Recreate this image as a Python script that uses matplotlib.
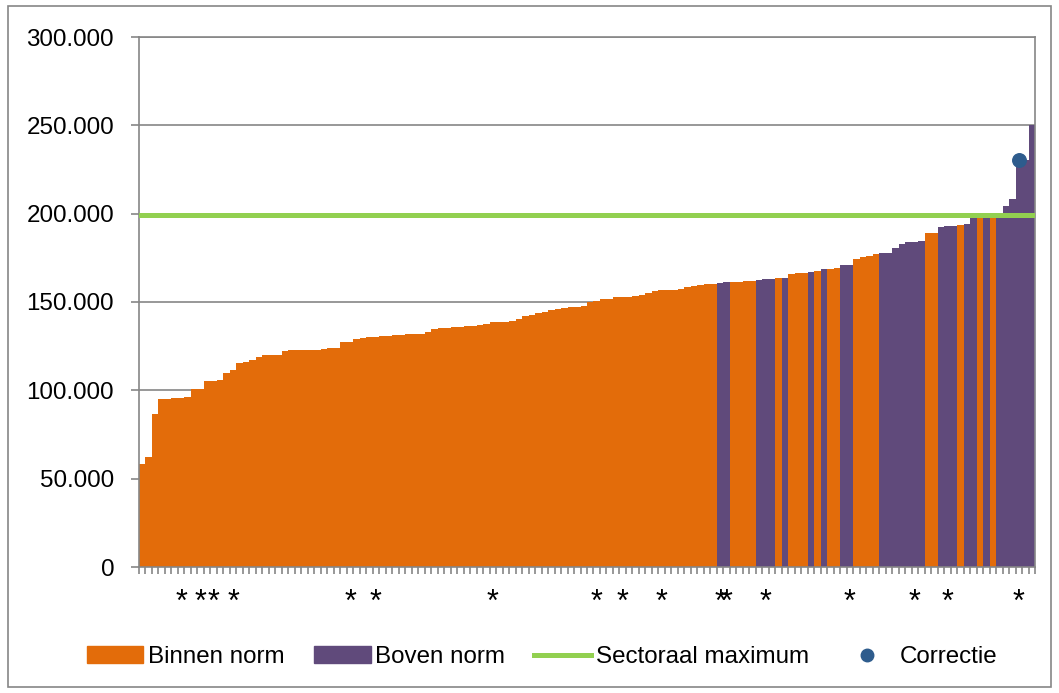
import numpy as np
import matplotlib
matplotlib.use("Agg")
import matplotlib.pyplot as plt
from matplotlib.ticker import FuncFormatter
from matplotlib.patches import Rectangle, Patch
from matplotlib.lines import Line2D

# one bar per company, sorted by value
values = [58100, 62400, 86400, 94900, 95000, 95500, 95700, 96000, 100600, 100800,
          105300, 105500, 105700, 109600, 111500, 115700, 115900, 117000, 118700, 119800,
          119800, 120000, 122300, 122600, 122800, 122800, 122800, 123000, 123200, 123800,
          123800, 127200, 127600, 129300, 129800, 130000, 130400, 130800, 131000, 131100,
          131300, 131700, 131900, 132100, 132800, 134900, 135100, 135500, 136000, 136000,
          136200, 136600, 137000, 137700, 138700, 138900, 138900, 139100, 140200, 142100,
          142800, 144000, 144500, 145500, 146200, 146800, 147200, 147400, 147700, 150200,
          150800, 151500, 151900, 152600, 153000, 153000, 153600, 153800, 154900, 156400,
          156600, 156800, 157000, 157200, 158700, 159200, 159600, 160000, 160200, 160600,
          161100, 161100, 161300, 162100, 162100, 162600, 162800, 163000, 163400, 163800,
          165900, 166200, 166200, 167000, 167600, 168500, 168500, 169100, 170800, 170800,
          174200, 175300, 176200, 177200, 177600, 177900, 180400, 183000, 183800, 184000,
          184500, 188900, 189300, 192500, 193000, 193200, 193400, 194200, 197400, 198000,
          198500, 198800, 200500, 204300, 208300, 230400, 230400, 250000]
boven = [89, 90, 95, 96, 97, 99, 103, 105, 108, 109, 114, 115, 116, 117, 118, 119, 120,
         123, 124, 125, 127, 128, 130, 132, 133, 134, 135, 136, 137]  # bars "Boven norm"
stars = [6, 9, 11, 14, 32, 36, 54, 70, 74, 80, 89, 90, 96, 109, 119, 124, 135]  # bars marked with *
sector_max = 199000
corr_idx = 135
corr_val = 230400
labels = ["Binnen norm", "Boven norm", "Sectoraal maximum", "Correctie"]

orange = '#E36C0A'
purple = '#604A7B'
green = '#92D050'
blue = '#2E5C8D'
grey = '#868686'

plt.rcParams['font.family'] = ['Liberation Sans', 'DejaVu Sans']
plt.rcParams['font.size'] = 17.4

W, H = 1059, 693
fig = plt.figure(figsize=(W / 100, H / 100), dpi=100)
ax = fig.add_axes([139 / W, 1 - 567 / H, (1035 - 139) / W, (567 - 37) / H])

x = np.arange(len(values))
cols = [purple if i in boven else orange for i in x]
ax.bar(x, values, width=1.0, color=cols, zorder=2)
ax.axhline(sector_max, color=green, lw=3.6, zorder=3)
ax.scatter([corr_idx], [corr_val], s=95, color=blue, zorder=4)

ax.set_xlim(-0.5, len(values) - 0.5)
ax.set_ylim(0, 300000)
ax.set_yticks(np.arange(0, 300001, 50000))
ax.yaxis.set_major_formatter(FuncFormatter(lambda v, p: '{:,.0f}'.format(v).replace(',', '.')))
ax.grid(axis='y', color=grey, lw=1.2, zorder=0)
ax.set_axisbelow(True)
ax.tick_params(axis='y', length=6, width=1.2, color=grey, pad=12)

ax.set_xticks(x)
ax.set_xticklabels(['*' if i in stars else '' for i in x], fontsize=22)
ax.tick_params(axis='x', which='major', length=0, pad=15)
ax.set_xticks(np.arange(-0.5, len(values)), minor=True)
ax.tick_params(axis='x', which='minor', length=5, width=1.2, color=grey)
for s in ax.spines.values():
    s.set_color(grey)
    s.set_linewidth(1.2)

handles = [Patch(color=orange), Patch(color=purple),
           Line2D([], [], color=green, lw=3.6),
           Line2D([], [], color=blue, marker='o', ls='', markersize=9)]
fig.legend(handles, labels, loc='center', bbox_to_anchor=(542 / W, 1 - 657 / H), ncol=4,
           frameon=False, handlelength=2.35, handleheight=0.7, handletextpad=0.2, columnspacing=1.2)

# outer chart border
fig.patches.append(Rectangle((8 / W, 6 / H), (1051 - 8) / W, (687 - 6) / H, transform=fig.transFigure,
                             fill=False, edgecolor=grey, lw=1.2))

fig.savefig('out.png', dpi=100)
